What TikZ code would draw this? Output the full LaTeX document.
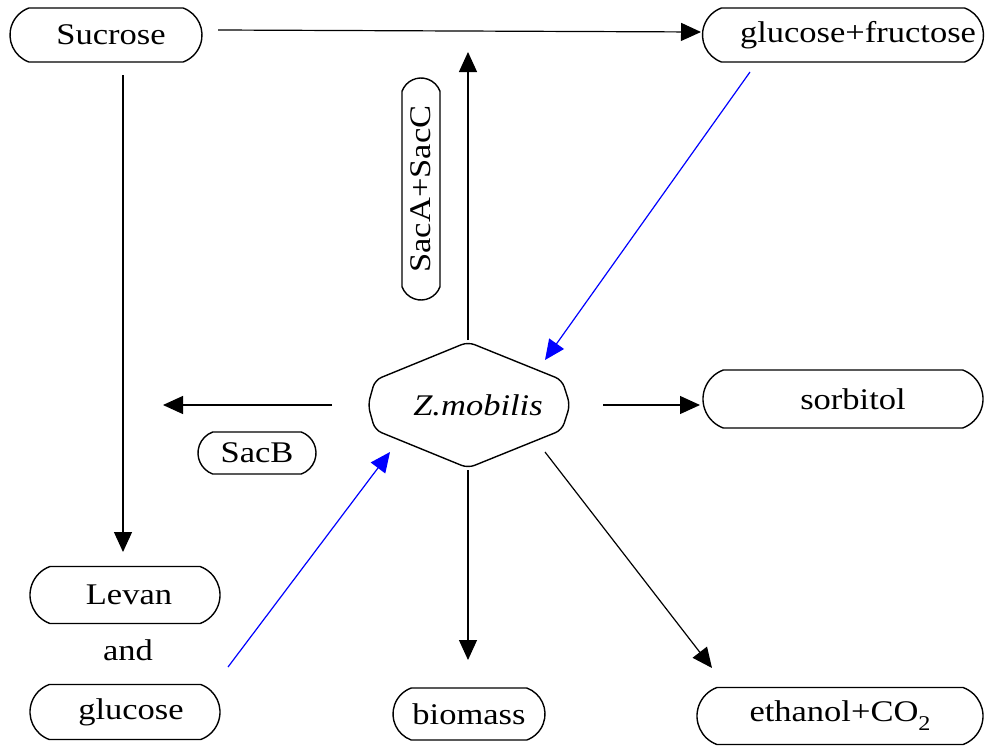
\documentclass[tikz,border=0pt]{standalone}
\usepackage{fontspec}
\setmainfont{Liberation Serif}[FakeStretch=1.15]
\usetikzlibrary{arrows.meta,shapes.misc}
\begin{document}
\begin{tikzpicture}[x=1pt,y=-1pt,
  txt/.style={font=\fontsize{30}{36}\selectfont},
  box/.style={txt,draw,line width=1.4pt,rounded rectangle,rounded rectangle arc length=140,inner sep=0pt},
  arr/.style={line width=1.2pt,-{Triangle[length=20pt,width=18pt]}},
  bluearr/.style={arr,blue}]
\useasboundingbox (0,0) rectangle (985,747);
% boxes
\node[box,minimum width=192pt,minimum height=54pt] (suc) at (106,35) {\hspace{10pt}Sucrose};
\node[box,minimum width=281pt,minimum height=54pt] (gf) at (843,35) {\hspace{30pt}glucose+fructose};
\node[box,rotate=90,minimum width=222pt,minimum height=38pt] (sac) at (421,189) {SacA+SacC};
\node[box,minimum width=118pt,minimum height=42pt] (sacb) at (257,453) {SacB};
\node[box,minimum width=280pt,minimum height=58pt] (sor) at (843,399) {\hspace{20pt}sorbitol};
\node[box,minimum width=190pt,minimum height=57pt] (lev) at (125,595) {\hspace{8pt}Levan};
\node[txt] (and) at (128,650) {and};
\node[box,minimum width=190pt,minimum height=55pt] (glu) at (125,712) {\hspace{12pt}glucose};
\node[box,minimum width=152pt,minimum height=52pt] (bio) at (469,714) {biomass};
\node[box,minimum width=286pt,minimum height=57pt] (eth) at (840,716) {ethanol+CO\raisebox{-9pt}{\fontsize{21}{21}\selectfont 2}};
% hexagon
\draw[line width=1.4pt,rounded corners=7pt] (468,342) -- (562,380) -- (570,405) -- (562,430) -- (468,468) -- (375,430) -- (368,405) -- (375,380) -- cycle;
\node[txt,font=\fontsize{30}{36}\selectfont\itshape] (zm) at (478,405) {Z.mobilis};
% connector end points
\coordinate (sucR) at (218,30);
\coordinate (gfL) at (701,32);
\coordinate (sucB) at (123,75);
\coordinate (levT) at (123,552);
\coordinate (zmT) at (468,340);
\coordinate (upT) at (468,52);
\coordinate (gfB) at (750,72);
\coordinate (zmUR) at (545,360);
\coordinate (zmL) at (332,405);
\coordinate (lftT) at (163,405);
\coordinate (zmR) at (603,405);
\coordinate (sorL) at (700,405);
\coordinate (gluR) at (228,667);
\coordinate (zmLL) at (390,452);
\coordinate (zmB) at (468,470);
\coordinate (bioT) at (468,660);
\coordinate (zmLR) at (545,452);
\coordinate (ethT) at (712,668);
% connectors
\draw[arr] (sucR) -- (gfL);
\draw[arr] (sucB) -- (levT);
\draw[arr] (zmT) -- (upT);
\draw[bluearr] (gfB) -- (zmUR);
\draw[arr] (zmL) -- (lftT);
\draw[arr] (zmR) -- (sorL);
\draw[bluearr] (gluR) -- (zmLL);
\draw[arr] (zmB) -- (bioT);
\draw[arr] (zmLR) -- (ethT);
\end{tikzpicture}
\end{document}
